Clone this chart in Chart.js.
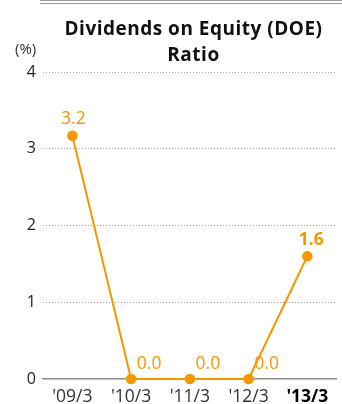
<!DOCTYPE html>
<html>
<head>
<meta charset="utf-8">
<script src="https://cdn.jsdelivr.net/npm/chart.js@4"></script>
<style>
  body { margin: 0; background: #fff; }
  #wrap { position: relative; width: 342px; height: 404px; }
  #topline { position: absolute; left: 40px; top: 0; width: 302px; height: 2px;
             border-top: 1.5px solid #9a9a9a; border-bottom: 1.5px solid #9a9a9a; }
  #title { position: absolute; left: 44px; width: 299px; top: 15px; text-align: center;
           font: bold 19px "Open Sans", sans-serif; letter-spacing: 0.5px; line-height: 26px; color: #111; }
  #unit { position: absolute; left: 15px; top: 38px; font: 15px "Open Sans", sans-serif; color: #333; }
</style>
</head>
<body>
<div id="wrap">
  <div id="topline"></div>
  <div id="title">Dividends on Equity (DOE)<br>Ratio</div>
  <div id="unit">(%)</div>
  <canvas id="chart" width="342" height="404"></canvas>
</div>
<script>
var theCategories = ["'09/3", "'10/3", "'11/3", "'12/3", "'13/3"];
var theValues = [3.17, 0.0, 0.0, 0.0, 1.6];
var theLabels = ["3.2", "0.0", "0.0", "0.0", "1.6"];
var theYTicks = [0, 1, 2, 3, 4];

var orange = '#f39800';

// value labels over the points
var valueLabels = {
  id: 'valueLabels',
  afterDatasetsDraw: function(chart) {
    var ctx = chart.ctx;
    var meta = chart.getDatasetMeta(0);
    ctx.save();
    ctx.fillStyle = orange;
    ctx.textBaseline = 'middle';
    ctx.textAlign = 'center';
    meta.data.forEach(function(pt, i) {
      var last = i === theLabels.length - 1;
      ctx.font = (last ? 'bold ' : '') + '17.5px "Open Sans", sans-serif';
      if (theValues[i] === 0) {
        ctx.fillText(theLabels[i], pt.x + 18, pt.y - 15);
      } else if (last) {
        ctx.fillText(theLabels[i], pt.x + 4, pt.y - 16);
      } else {
        ctx.fillText(theLabels[i], pt.x + 1, pt.y - 17);
      }
    });
    ctx.restore();
  }
};

new Chart(document.getElementById('chart'), {
  type: 'line',
  data: {
    labels: theCategories,
    datasets: [{
      data: theValues,
      borderColor: orange,
      backgroundColor: orange,
      borderWidth: 2,
      pointRadius: 5.3,
      pointBackgroundColor: orange,
      pointBorderWidth: 0,
      tension: 0,
      clip: false
    }]
  },
  options: {
    responsive: false,
    animation: false,
    layout: { padding: { top: 72, right: 0, bottom: 0, left: 0 } },
    plugins: { legend: { display: false }, tooltip: { enabled: false } },
    scales: {
      x: {
        offset: true,
        grid: { display: false, drawTicks: false },
        border: { display: true, color: '#8c8c8c', width: 1.5 },
        afterFit: function(scale) { scale.height = 25; },
        ticks: {
          padding: 8,
          color: function(c) { return c.index === 4 ? '#000' : '#333'; },
          font: function(c) {
            return { family: '"Open Sans", sans-serif', size: 17.5, weight: c.index === 4 ? 'bold' : 'normal' };
          }
        }
      },
      y: {
        min: 0,
        max: 4,
        afterFit: function(scale) { scale.width = 43; },
        afterBuildTicks: function(scale) {
          scale.ticks = theYTicks.map(function(v) { return { value: v }; });
        },
        border: { display: false, dash: [1, 2] },
        grid: {
          drawTicks: false,
          lineWidth: 1,
          color: function(c) { return c.tick && c.tick.value === 0 ? 'rgba(0,0,0,0)' : '#a8a8a8'; }
        },
        ticks: {
          padding: 7,
          color: '#222',
          font: { family: '"Open Sans", sans-serif', size: 16 }
        }
      }
    }
  },
  plugins: [valueLabels]
});
</script>
</body>
</html>
